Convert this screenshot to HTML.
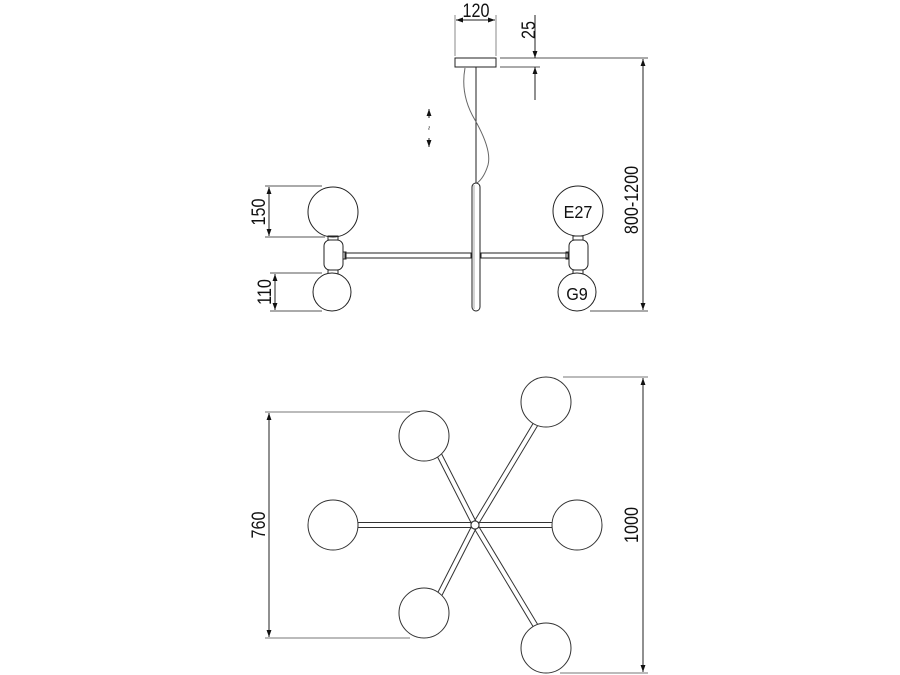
<!DOCTYPE html>
<html><head><meta charset="utf-8"><style>html,body{margin:0;padding:0;background:#fff}svg{display:block}</style></head>
<body>
<svg width="900" height="675" viewBox="0 0 900 675" xmlns="http://www.w3.org/2000/svg" font-family="Liberation Sans, sans-serif">
<defs>
<marker id="a" viewBox="0 0 10 10" refX="10" refY="5" markerWidth="7" markerHeight="7" orient="auto-start-reverse" markerUnits="userSpaceOnUse"><path d="M0,1.5 L10,5 L0,8.5Z" fill="#111"/></marker>
</defs>
<g stroke="#222" stroke-width="1" fill="none">
<rect x="455" y="58" width="41" height="9" fill="#fff"/>
<line x1="455" y1="15" x2="455" y2="56" stroke="#888"/>
<line x1="496" y1="15" x2="496" y2="56" stroke="#888"/>
<line x1="456" y1="20" x2="495" y2="20" marker-start="url(#a)" marker-end="url(#a)"/>
<line x1="500" y1="58" x2="648" y2="58" stroke="#555"/>
<line x1="500" y1="67" x2="540" y2="67" stroke="#555"/>
<line x1="535" y1="15" x2="535" y2="58" marker-end="url(#a)"/>
<line x1="535" y1="100" x2="535" y2="67" marker-end="url(#a)"/>
<line x1="643" y1="59" x2="643" y2="310" marker-start="url(#a)" marker-end="url(#a)"/>
<line x1="590" y1="311" x2="648" y2="311" stroke="#555"/>
<line x1="476" y1="67" x2="476" y2="183"/>
<path d="M465,68 Q460,95 475,120 Q492,150 488,165 Q484,178 477,183" stroke="#666"/>
<rect x="472" y="183" width="8" height="128" rx="4" fill="#fff"/>
<line x1="474" y1="185" x2="474" y2="309" stroke="#aaa"/>
<rect x="345" y="253" width="126" height="5" fill="#fff"/>
<rect x="481" y="253" width="87" height="5" fill="#fff"/>
<circle cx="333" cy="212" r="25" fill="#fff"/>
<rect x="328" y="236" width="10" height="4"/>
<rect x="324" y="240" width="19" height="30" rx="6" fill="#fff"/>
<rect x="328" y="270" width="10" height="4"/>
<circle cx="332" cy="292" r="19" fill="#fff"/>
<rect x="343" y="252" width="3" height="7"/>
<circle cx="578" cy="211" r="25" fill="#fff"/>
<rect x="573" y="236" width="10" height="4"/>
<rect x="569" y="240" width="19" height="30" rx="6" fill="#fff"/>
<rect x="573" y="270" width="10" height="4"/>
<circle cx="577" cy="292" r="19" fill="#fff"/>
<rect x="566" y="252" width="3" height="7"/>
<line x1="265" y1="186" x2="322" y2="186" stroke="#555"/>
<line x1="265" y1="237" x2="325" y2="237" stroke="#555"/>
<line x1="269" y1="187" x2="269" y2="236" marker-start="url(#a)" marker-end="url(#a)"/>
<line x1="270" y1="273" x2="322" y2="273" stroke="#555"/>
<line x1="270" y1="311" x2="322" y2="311" stroke="#555"/>
<line x1="275" y1="274" x2="275" y2="310" marker-start="url(#a)" marker-end="url(#a)"/>
<line x1="429" y1="109" x2="429" y2="118" marker-start="url(#a)"/>
<line x1="429" y1="138" x2="429" y2="147" marker-end="url(#a)"/>
<g stroke="#333">
<g transform="translate(475,525)">
<rect x="-117" y="-2.5" width="113" height="5" fill="#fff"/>
<rect x="4" y="-2.5" width="74" height="5" fill="#fff"/>
<g transform="rotate(-59)"><rect x="4" y="-2.5" width="117" height="5" fill="#fff"/></g>
<g transform="rotate(59)"><rect x="4" y="-2.5" width="117" height="5" fill="#fff"/></g>
<g transform="rotate(-117)"><rect x="4" y="-2.5" width="78" height="5" fill="#fff"/></g>
<g transform="rotate(117)"><rect x="4" y="-2.5" width="78" height="5" fill="#fff"/></g>
<circle cx="0" cy="0" r="4" fill="#fff"/>
</g>
<circle cx="333" cy="525" r="25" fill="#fff"/>
<circle cx="577" cy="525" r="25" fill="#fff"/>
<circle cx="424" cy="436" r="25" fill="#fff"/>
<circle cx="424" cy="613" r="25" fill="#fff"/>
<circle cx="546" cy="402" r="25" fill="#fff"/>
<circle cx="546" cy="648" r="25" fill="#fff"/>
</g>
<line x1="265" y1="412" x2="410" y2="412" stroke="#777"/>
<line x1="265" y1="638" x2="410" y2="638" stroke="#777"/>
<line x1="269" y1="413" x2="269" y2="637" marker-start="url(#a)" marker-end="url(#a)"/>
<line x1="563" y1="377" x2="648" y2="377" stroke="#777"/>
<line x1="560" y1="673" x2="648" y2="673" stroke="#777"/>
<line x1="643" y1="378" x2="643" y2="672" marker-start="url(#a)" marker-end="url(#a)"/>
</g>
<g fill="#111" font-size="19">
<text transform="translate(476,17) scale(0.85,1)" text-anchor="middle">120</text>
<text transform="translate(535,30) rotate(-90) scale(0.85,1)" text-anchor="middle">25</text>
<text transform="translate(638,200) rotate(-90) scale(0.85,1)" text-anchor="middle">800-1200</text>
<text transform="translate(265,212) rotate(-90) scale(0.85,1)" text-anchor="middle">150</text>
<text transform="translate(271,292) rotate(-90) scale(0.85,1)" text-anchor="middle">110</text>
<text transform="translate(265,525) rotate(-90) scale(0.85,1)" text-anchor="middle">760</text>
<text transform="translate(638,525) rotate(-90) scale(0.85,1)" text-anchor="middle">1000</text>
<text transform="translate(578,218) scale(0.9,1)" text-anchor="middle" font-size="18">E27</text>
<text transform="translate(577,300) scale(0.9,1)" text-anchor="middle" font-size="18">G9</text>
<text transform="translate(432,128) rotate(-90)" text-anchor="middle" font-size="8">~</text>
</g>
</svg>
</body></html>
